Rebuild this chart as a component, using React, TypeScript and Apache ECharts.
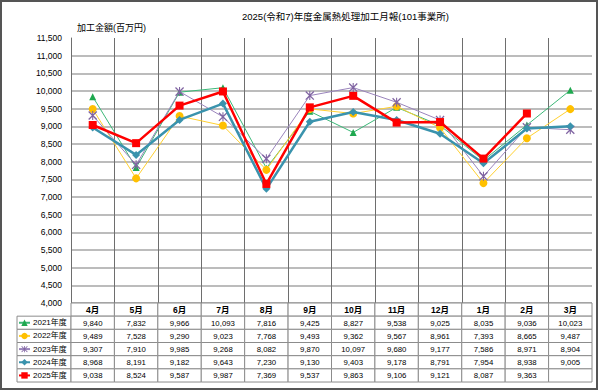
import React, { useEffect, useRef } from "react";
import * as echarts from "echarts";

const months = ["4月", "5月", "6月", "7月", "8月", "9月", "10月", "11月", "12月", "1月", "2月", "3月"];
const years = ["2021年度", "2022年度", "2023年度", "2024年度", "2025年度"];
const v2021 = [9840, 7832, 9966, 10093, 7816, 9425, 8827, 9538, 9025, 8035, 9036, 10023];
const v2022 = [9489, 7528, 9290, 9023, 7768, 9493, 9362, 9567, 8961, 7393, 8665, 9487];
const v2023 = [9307, 7910, 9985, 9268, 8082, 9870, 10097, 9680, 9177, 7586, 8971, 8904];
const v2024 = [8968, 8191, 9182, 9643, 7230, 9130, 9403, 9178, 8791, 7954, 8938, 9005];
const v2025: (number | null)[] = [9038, 8524, 9587, 9987, 7369, 9537, 9863, 9106, 9121, 8087, 9363, null];
const yTicks = { min: 4000, max: 11500, interval: 500 };
const titleText = "2025(令和7)年度金属熱処理加工月報(101事業所)";
const yName = "加工金額(百万円)";

const allValues = [v2021, v2022, v2023, v2024, v2025];
const colors = ["#1fa84f", "#ffc000", "#8064a2", "#3a93ad", "#ff0000"];
const lineColors = ["#3cb878", "#ffd030", "#9a84bc", "#3a93ad", "#ff0000"];
const starPath =
  "path://M0,1L1,0L10,9L9,10ZM9,0L10,1L1,10L0,9ZM4.4,0L5.6,0L5.6,10L4.4,10Z";
const symbols = ["triangle", "circle", starPath, "diamond", "rect"];
const symbolSizes = [7, 8, 9, 8, 8];
const lineWidths = [1, 1, 1, 2.5, 2.5];

const FONT = "'Liberation Sans', 'Noto Sans CJK JP', sans-serif";
const fmt = (v: number | null) => (v == null ? "" : v.toLocaleString("en-US"));

type Cell = { col: number; row: number; text: string; bold: boolean };
const cells: Cell[] = [];
months.forEach((m, i) => cells.push({ col: i, row: 0, text: m, bold: true }));
allValues.forEach((arr, r) => {
  cells.push({ col: -1, row: r + 1, text: "", bold: false });
  arr.forEach((v, i) => cells.push({ col: i, row: r + 1, text: fmt(v), bold: false }));
});

export default function App() {
  const ref = useRef<HTMLDivElement>(null);
  useEffect(() => {
    if (!ref.current) return;
    const chart = echarts.init(ref.current, undefined, { renderer: "svg" });
    const plotLeft = 71;
    const plotRight = 8;
    const plotW = 600 - plotLeft - plotRight;
    const colW = plotW / 12;
    const legendColLeft = 17;
    const xMin = -0.5 - (plotLeft - legendColLeft) / colW;
    const tableTop = 303;
    const rowH = 13.17;

    const option: any = {
      animation: false,
      backgroundColor: "#ffffff",
      textStyle: { fontFamily: FONT },
      title: [
        {
          text: titleText,
          left: 242,
          top: 12,
          padding: 0,
          textStyle: { fontSize: 9.5, fontWeight: "normal", color: "#000", fontFamily: FONT },
        },
        {
          text: yName,
          left: 77,
          top: 23,
          padding: 0,
          textStyle: { fontSize: 9, fontWeight: "normal", color: "#000", fontFamily: FONT },
        },
      ],
      legend: {
        data: years,
        orient: "vertical",
        left: 18,
        top: tableTop + rowH + (rowH - 8) / 2,
        itemWidth: 11,
        itemHeight: 8,
        itemGap: rowH - 8,
        padding: 0,
        selectedMode: false,
        textStyle: { fontSize: 8, lineHeight: 8, color: "#000", fontFamily: FONT, padding: [0, 0, 0, -2] },
      },
      grid: [
        { left: plotLeft, right: plotRight, top: 38, height: tableTop - 38 },
        { left: legendColLeft, right: plotRight, top: tableTop, height: rowH * 6 },
      ],
      xAxis: [
        {
          type: "category",
          data: months,
          boundaryGap: true,
          gridIndex: 0,
          axisLabel: { show: false },
          axisTick: { show: false },
          axisLine: { show: false },
          splitLine: { show: true, showMaxLine: false, lineStyle: { color: "#6e6e6e", width: 1 } },
        },
        { type: "value", gridIndex: 1, min: xMin, max: 11.5, show: false },
      ],
      yAxis: [
        {
          type: "value",
          gridIndex: 0,
          min: yTicks.min,
          max: yTicks.max,
          interval: yTicks.interval,
          axisLine: { show: true, lineStyle: { color: "#6e6e6e", width: 1 } },
          axisTick: { show: false },
          axisLabel: {
            fontSize: 8.5,
            color: "#000",
            margin: 9,
            fontFamily: FONT,
            formatter: (v: number) => v.toLocaleString("en-US"),
          },
          splitLine: { show: true, showMaxLine: false, lineStyle: { color: "#a6a6a6", width: 1.5 } },
        },
        { type: "value", gridIndex: 1, min: 0, max: 6, inverse: true, show: false },
      ],
      series: [
        ...allValues.map((arr, i) => ({
          name: years[i],
          type: "line",
          xAxisIndex: 0,
          yAxisIndex: 0,
          data: arr,
          symbol: symbols[i],
          symbolSize: symbolSizes[i],
          itemStyle: { color: colors[i] },
          lineStyle: { color: lineColors[i], width: lineWidths[i] },
          connectNulls: false,
          z: 3 + i,
        })),
        {
          type: "custom",
          xAxisIndex: 1,
          yAxisIndex: 1,
          clip: false,
          data: cells.map((c) => [c.col, c.row]),
          encode: { x: 0, y: 1 },
          z: 1,
          silent: true,
          renderItem: (params: any, api: any) => {
            const c = cells[params.dataIndex];
            const x0 = c.col < 0 ? xMin : c.col - 0.5;
            const x1 = c.col < 0 ? -0.5 : c.col + 0.5;
            const p0 = api.coord([x0, c.row]);
            const p1 = api.coord([x1, c.row + 1]);
            return {
              type: "group",
              children: [
                {
                  type: "rect",
                  shape: { x: p0[0], y: p0[1], width: p1[0] - p0[0], height: p1[1] - p0[1] },
                  style: { fill: "#ffffff", stroke: "#8c8c8c", lineWidth: 1 },
                },
                {
                  type: "text",
                  x: (p0[0] + p1[0]) / 2,
                  y: (p0[1] + p1[1]) / 2 + 0.5,
                  style: {
                    text: c.text,
                    align: "center",
                    verticalAlign: "middle",
                    fontSize: c.bold ? 8.5 : 7.8,
                    fontWeight: c.bold ? "bold" : "normal",
                    fontFamily: FONT,
                    fill: "#000",
                  },
                },
              ],
            };
          },
        },
      ],
      graphic: [
        {
          type: "rect",
          shape: { x: 1, y: 1, width: 596, height: 388 },
          style: { fill: "none", stroke: "#555555", lineWidth: 2 },
          silent: true,
          z: 100,
        },
      ],
    };
    chart.setOption(option);
    return () => chart.dispose();
  }, []);
  return (
    <div
      ref={ref}
      style={{ position: "fixed", left: 0, top: 0, width: 600, height: 392 }}
    />
  );
}
